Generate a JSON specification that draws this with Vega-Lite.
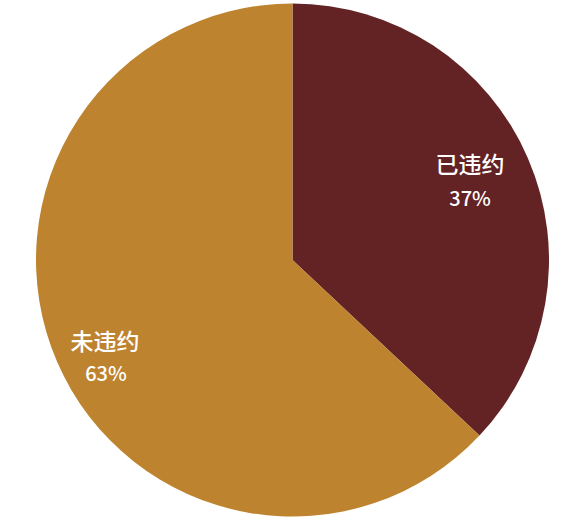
{
  "$schema": "https://vega.github.io/schema/vega-lite/v6.json",
  "width": 513,
  "height": 513,
  "padding": {"left": 36, "top": 3.5, "right": 33, "bottom": 7.5},
  "autosize": {"type": "none"},
  "background": "white",
  "view": {"stroke": null},
  "data": {"values": [
    {"status": "已违约", "share": 37, "label": "37%"},
    {"status": "未违约", "share": 63, "label": "63%"}
  ]},
  "encoding": {
    "theta": {"field": "share", "type": "quantitative", "stack": true},
    "order": {"field": "share", "sort": "ascending"}
  },
  "layer": [
    {
      "mark": {"type": "arc", "outerRadius": 256.5},
      "encoding": {
        "color": {"field": "status", "type": "nominal",
          "scale": {"domain": ["已违约", "未违约"], "range": ["#632325", "#BE832F"]},
          "legend": null}
      }
    },
    {
      "mark": {"type": "text", "radius": 200, "dx": -6, "dy": -14.6, "fill": "white", "font": "Noto Sans CJK SC", "fontSize": 23, "fontWeight": 500, "align": "center", "baseline": "middle"},
      "encoding": {"text": {"condition": {"test": "datum.status === '已违约'", "field": "status"}, "value": ""}}
    },
    {
      "mark": {"type": "text", "radius": 200, "dx": -6, "dy": 19.4, "fill": "white", "font": "Noto Sans CJK SC", "fontSize": 20, "fontWeight": 500, "align": "center", "baseline": "middle"},
      "encoding": {"text": {"condition": {"test": "datum.status === '已违约'", "field": "label"}, "value": ""}}
    },
    {
      "mark": {"type": "text", "radius": 200, "dx": -4, "dy": 3.6, "fill": "white", "font": "Noto Sans CJK SC", "fontSize": 23, "fontWeight": 500, "align": "center", "baseline": "middle"},
      "encoding": {"text": {"condition": {"test": "datum.status === '未违约'", "field": "status"}, "value": ""}}
    },
    {
      "mark": {"type": "text", "radius": 200, "dx": -3, "dy": 35.6, "fill": "white", "font": "Noto Sans CJK SC", "fontSize": 20, "fontWeight": 500, "align": "center", "baseline": "middle"},
      "encoding": {"text": {"condition": {"test": "datum.status === '未违约'", "field": "label"}, "value": ""}}
    }
  ]
}
